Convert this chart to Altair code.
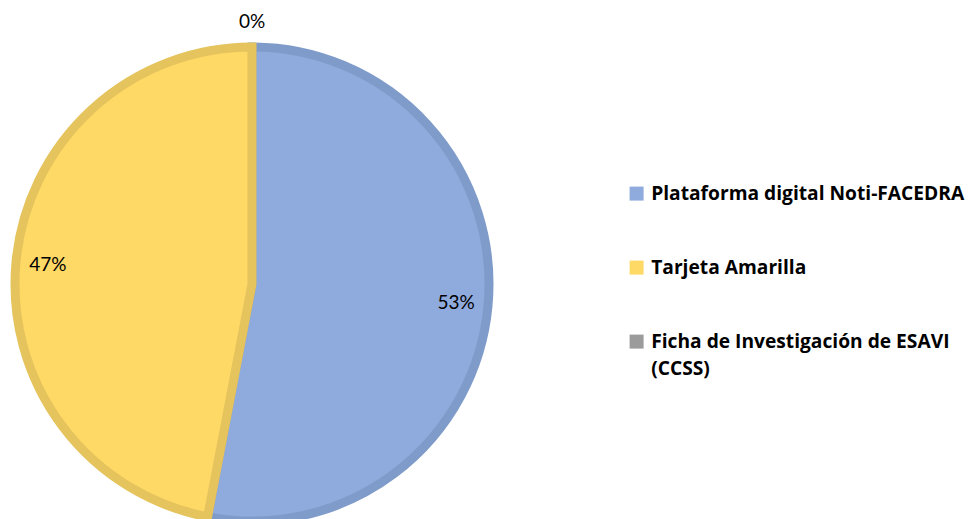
import altair as alt
import pandas as pd

categories = ["Plataforma digital Noti-FACEDRA", "Tarjeta Amarilla", "Ficha de Investigación de ESAVI (CCSS)"]
values = [53, 47, 0]
order_idx = [0, 1, 2]
fill_colors = ["#8FAADC", "#FFD966", "#9B9B9B"]
stroke_colors = ["#7F9BC9", "#E5C45E", "#999999"]

df = pd.DataFrame({"cat": categories, "value": values, "idx": order_idx})
df["label"] = [f"{v}%" for v in values]

CX, CY = 244, 276
R = 237

base = alt.Chart(df).encode(
    theta=alt.Theta("value:Q", stack=True),
    order=alt.Order("idx:Q", sort="ascending"),
)

arcs = base.transform_filter("datum.value > 0").mark_arc(
    radius=R, strokeWidth=9, x=CX, y=CY
).encode(
    color=alt.Color(
        "cat:N",
        scale=alt.Scale(domain=categories, range=fill_colors),
        sort=categories,
        legend=alt.Legend(
            title=None,
            orient="none",
            legendX=619,
            legendY=176,
            symbolType="square",
            symbolSize=196,
            symbolStrokeWidth=0,
            labelFont="Open Sans",
            labelFontSize=19.2,
            labelFontWeight="bold",
            labelColor="#000000",
            labelOffset=5,
            labelLimit=400,
            rowPadding=54,
            labelExpr="datum.label == 'Ficha de Investigación de ESAVI (CCSS)' ? ['Ficha de Investigación de ESAVI', '(CCSS)'] : datum.label",
            values=categories,
        ),
    ),
    stroke=alt.Stroke(
        "cat:N",
        scale=alt.Scale(domain=categories, range=stroke_colors),
        legend=None,
    ),
)

labels = base.transform_filter("datum.value > 0").mark_text(
    radius=205, x=CX, y=CY, font="Lato", fontSize=19, color="#000000"
).encode(text="label:N")

zero_labels = base.transform_filter("datum.value == 0").mark_text(
    radius=262, x=CX, y=CY, font="Lato", fontSize=19, color="#000000"
).encode(text="label:N")

chart = alt.layer(arcs, labels, zero_labels).properties(
    width=960, height=530, autosize=alt.AutoSizeParams(type="none"), padding=0
).configure_view(stroke=None).configure(
    style={"guide-label": {"lineHeight": 27}}
)

chart.save("out.html", embed_options={"renderer": "svg", "actions": False})
